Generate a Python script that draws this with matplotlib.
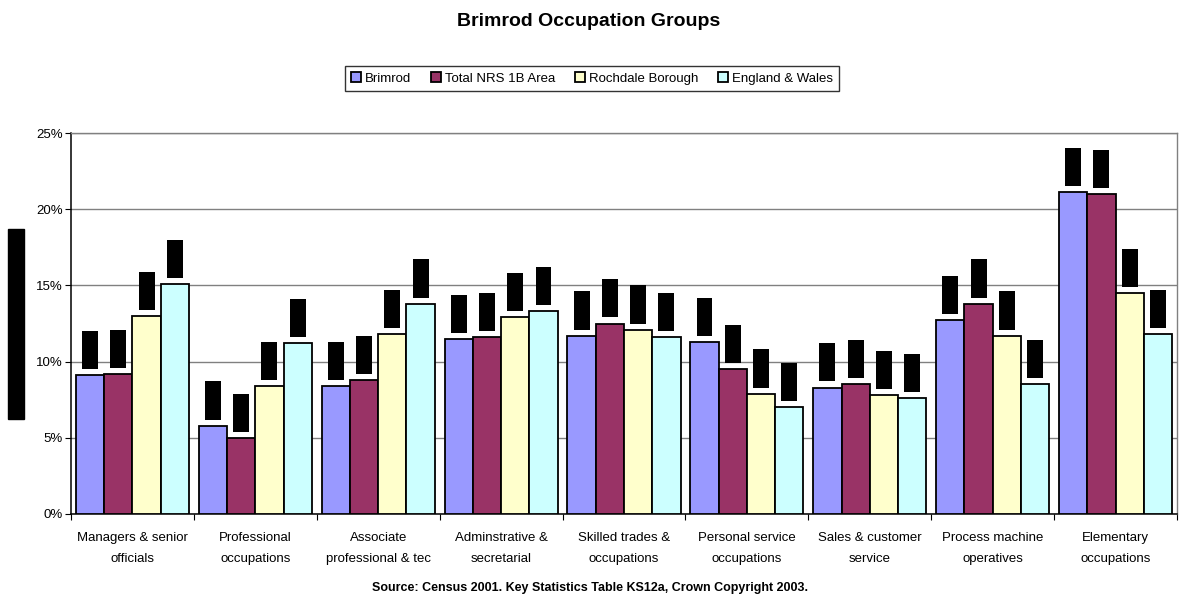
import matplotlib
matplotlib.use("Agg")
import matplotlib.pyplot as plt
from matplotlib.patches import Rectangle
import numpy as np

plt.rcParams['font.family'] = ['Liberation Sans', 'DejaVu Sans']

# Occupation groups (x axis)
groups = ["Managers & senior\nofficials", "Professional\noccupations",
          "Associate\nprofessional & tec", "Adminstrative &\nsecretarial",
          "Skilled trades &\noccupations", "Personal service\noccupations",
          "Sales & customer\nservice", "Process machine\noperatives",
          "Elementary\noccupations"]

# Percentages
brimrod = [9.1, 5.8, 8.4, 11.5, 11.7, 11.3, 8.3, 12.7, 21.1]
nrs_area = [9.2, 5.0, 8.8, 11.6, 12.5, 9.5, 8.5, 13.8, 21.0]
rochdale = [13.0, 8.4, 11.8, 12.9, 12.1, 7.9, 7.8, 11.7, 14.5]
eng_wales = [15.1, 11.2, 13.8, 13.3, 11.6, 7.0, 7.6, 8.5, 11.8]

series_names = ["Brimrod", "Total NRS 1B Area", "Rochdale Borough", "England & Wales"]
colors = ['#9999FF', '#993366', '#FFFFCC', '#CCFFFF']

fig = plt.figure(figsize=(11.88, 5.96), dpi=100)
ax = fig.add_axes([71 / 1188, 1 - 514 / 596, (1177 - 71) / 1188, (514 - 133) / 596])

x = np.arange(len(groups))
bar_w = 0.23
all_series = [brimrod, nrs_area, rochdale, eng_wales]
handles = []
for i, vals in enumerate(all_series):
    pos = x + (i - 1.5) * bar_w
    b = ax.bar(pos, vals, width=bar_w, color=colors[i], edgecolor='black',
               linewidth=1.3, label=series_names[i], zorder=3)
    handles.append(b)
    # blacked-out data labels above each bar
    ax.bar(pos, [2.5] * len(vals), bottom=np.array(vals) + 0.4, width=0.13,
           color='black', linewidth=0, zorder=3)

ax.set_xlim(-0.5, len(groups) - 0.5)
ax.set_ylim(0, 25)
ax.set_yticks([0, 5, 10, 15, 20, 25])
ax.set_yticklabels([f"{v}%" for v in range(0, 30, 5)], fontsize=9.5)
ax.yaxis.grid(True, color='#808080', linewidth=1.0, zorder=0)

# ticks between groups, labels at group centres
ax.set_xticks(np.arange(len(groups) + 1) - 0.5)
ax.set_xticklabels([])
ax.set_xticks(x, minor=True)
ax.set_xticklabels(groups, minor=True, fontsize=9.5, linespacing=1.95)
ax.tick_params(axis='x', which='minor', length=0, pad=13)
ax.tick_params(axis='x', which='major', length=4, direction='out')
ax.tick_params(axis='y', length=4, direction='out', pad=2)

for s in ['left', 'bottom']:
    ax.spines[s].set_color('black')
    ax.spines[s].set_linewidth(1.1)
for s in ['top', 'right']:
    ax.spines[s].set_color('#808080')
    ax.spines[s].set_linewidth(1.0)

fig.text(589 / 1188, 1 - 22 / 596, "Brimrod Occupation Groups", ha='center', va='center',
         fontsize=14, fontweight='bold')

leg = fig.legend(handles=handles, labels=series_names, loc='center',
                 bbox_to_anchor=(592 / 1188, 1 - 78.5 / 596), ncol=4, fontsize=9.5,
                 frameon=True, fancybox=False, edgecolor='black', handlelength=0.75,
                 handleheight=0.75, handletextpad=0.3, columnspacing=1.5,
                 borderpad=0.45, borderaxespad=0)
leg.get_frame().set_linewidth(1.0)

fig.text(590 / 1188, 1 - 588 / 596,
         "Source: Census 2001. Key Statistics Table KS12a, Crown Copyright 2003.",
         ha='center', va='center', fontsize=9, fontweight='bold')

# blacked-out y axis title
fig.add_artist(Rectangle((8 / 1188, 1 - 419 / 596), 16 / 1188, 190 / 596,
                         transform=fig.transFigure, color='black'))

fig.savefig("out.png", dpi=100)
